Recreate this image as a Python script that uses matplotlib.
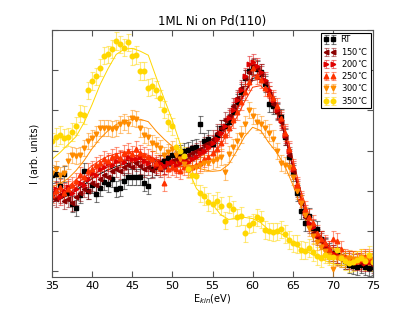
import numpy as np
import matplotlib
matplotlib.use('Agg')
import matplotlib.pyplot as plt

# kinetic energy grid of the measured points and of the fits
energy = np.arange(35.0, 75.5, 0.5)
energy_fit = np.arange(35.0, 76.0, 1.0)

labels = ['RT', '150$^{\\circ}$C', '200$^{\\circ}$C', '250$^{\\circ}$C',
          '300$^{\\circ}$C', '350$^{\\circ}$C']

I_rt = [2.40, 2.42, 2.12, 2.42, 1.95, 1.66, 1.56, 1.90, 2.48, 2.00,
        2.14, 1.92, 2.06, 2.22, 2.17, 2.30, 2.04, 2.07, 2.25, 2.33,
        2.35, 2.35, 2.33, 2.20, 2.12, 2.55, 2.60, 2.70, 2.75, 2.82,
        2.88, 2.90, 2.95, 3.00, 3.02, 3.07, 3.10, 3.65, 3.25, 3.30,
        3.17, 3.40, 3.55, 3.60, 3.70, 3.95, 4.20, 4.45, 4.80, 4.98,
        5.08, 5.03, 4.97, 4.65, 4.15, 4.10, 3.98, 3.83, 3.33, 2.85,
        2.45, 1.95, 1.50, 1.20, 1.36, 1.07, 1.05, 0.80, 0.62, 0.50,
        0.45, 0.40, 0.33, 0.25, 0.15, 0.12, 0.08, 0.13, 0.10, 0.07,
        0.10]
I_150 = [1.85, 1.80, 1.90, 1.75, 1.80, 1.70, 1.85, 1.95, 2.05, 2.00,
         2.20, 2.15, 2.30, 2.40, 2.35, 2.50, 2.55, 2.48, 2.60, 2.65,
         2.58, 2.70, 2.62, 2.55, 2.60, 2.52, 2.60, 2.55, 2.62, 2.70,
         2.75, 2.80, 2.85, 2.80, 2.90, 2.95, 3.00, 3.05, 3.15, 3.20,
         3.30, 3.45, 3.55, 3.75, 3.85, 4.10, 4.30, 4.55, 4.80, 4.95,
         5.10, 5.05, 4.90, 4.70, 4.40, 4.15, 3.95, 3.70, 3.35, 2.90,
         2.50, 2.05, 1.70, 1.35, 1.15, 0.95, 0.85, 0.75, 0.60, 0.45,
         0.40, 0.35, 0.30, 0.25, 0.28, 0.22, 0.25, 0.20, 0.28, 0.22,
         0.15]
I_200 = [1.95, 2.05, 1.85, 2.00, 2.10, 1.95, 2.05, 2.20, 2.15, 2.30,
         2.45, 2.40, 2.55, 2.60, 2.70, 2.65, 2.75, 2.80, 2.72, 2.85,
         2.80, 2.78, 2.85, 2.75, 2.70, 2.78, 2.65, 2.70, 2.62, 2.68,
         2.72, 2.65, 2.70, 2.75, 2.72, 2.80, 2.85, 2.95, 3.00, 3.10,
         3.20, 3.30, 3.45, 3.60, 3.80, 4.00, 4.25, 4.50, 4.85, 5.15,
         5.20, 5.10, 4.95, 4.75, 4.50, 4.25, 4.00, 3.75, 3.40, 3.00,
         2.55, 2.10, 1.75, 1.45, 1.20, 1.10, 0.90, 0.78, 0.65, 0.55,
         0.45, 0.40, 0.35, 0.30, 0.25, 0.30, 0.22, 0.25, 0.20, 0.22,
         0.25]
I_250 = [1.90, 2.00, 2.10, 1.95, 2.05, 2.15, 2.25, 2.40, 2.35, 2.50,
         2.55, 2.65, 2.70, 2.80, 2.75, 2.85, 2.90, 2.82, 2.95, 3.00,
         2.92, 3.05, 2.95, 2.90, 2.85, 2.80, 2.70, 2.60, 2.18, 2.55,
         2.60, 2.55, 2.50, 2.58, 2.55, 2.60, 2.65, 2.70, 2.78, 2.85,
         2.95, 3.05, 3.20, 3.40, 3.55, 3.75, 3.95, 4.20, 4.45, 4.70,
         5.05, 4.85, 4.75, 4.55, 4.40, 4.30, 4.10, 3.80, 3.45, 3.05,
         2.60, 2.15, 1.80, 1.55, 1.35, 1.20, 0.95, 0.80, 0.70, 0.55,
         0.80, 0.75, 0.55, 0.35, 0.30, 0.28, 0.25, 0.30, 0.35, 0.28,
         0.30]
I_300 = [2.45, 2.55, 2.40, 2.45, 2.75, 2.90, 2.87, 2.88, 3.07, 3.23,
         3.32, 3.42, 3.57, 3.57, 3.57, 3.53, 3.57, 3.65, 3.72, 3.65,
         3.80, 3.78, 3.55, 3.38, 3.35, 3.20, 3.15, 3.07, 2.90, 2.97,
         3.05, 2.90, 2.80, 2.67, 2.60, 2.57, 2.58, 2.65, 2.70, 2.70,
         2.73, 2.80, 2.85, 2.47, 2.92, 3.10, 3.25, 3.40, 3.65, 4.00,
         3.85, 3.70, 3.65, 3.55, 3.45, 3.30, 3.00, 2.70, 2.65, 2.60,
         2.35, 1.98, 1.70, 1.40, 1.07, 0.86, 0.72, 0.60, 0.48, 0.40,
         0.05, 0.32, 0.35, 0.30, 0.32, 0.28, 0.30, 0.33, 0.30, 0.35,
         0.30]
I_350 = [3.23, 3.33, 3.38, 3.32, 3.33, 3.47, 3.62, 3.92, 3.88, 4.50,
         4.73, 4.85, 5.07, 5.37, 5.40, 5.53, 5.73, 5.65, 5.57, 5.70,
         5.35, 5.38, 4.98, 4.98, 4.57, 4.60, 4.52, 4.30, 4.02, 3.70,
         3.60, 3.10, 2.98, 2.86, 2.53, 2.40, 2.37, 1.93, 1.86, 1.72,
         1.67, 1.75, 1.61, 1.25, 1.65, 1.53, 1.33, 1.36, 0.93, 1.15,
         1.19, 1.33, 1.28, 1.02, 0.98, 0.96, 0.98, 1.03, 0.92, 0.77,
         0.68, 0.67, 0.52, 0.50, 0.57, 0.47, 0.37, 0.32, 0.40, 0.35,
         0.35, 0.52, 0.32, 0.23, 0.18, 0.22, 0.27, 0.32, 0.23, 0.40,
         0.22]

fit_rt = [1.70, 1.78, 1.88, 2.00, 2.15, 2.30, 2.42, 2.52, 2.60, 2.66,
          2.70, 2.72, 2.72, 2.72, 2.73, 2.76, 2.80, 2.86, 2.95, 3.08,
          3.25, 3.45, 3.72, 4.05, 4.45, 4.80, 4.85, 4.55, 4.05, 3.40,
          2.60, 1.80, 1.20, 0.82, 0.58, 0.42, 0.32, 0.26, 0.22, 0.20,
          0.19]
fit_150 = [1.72, 1.80, 1.92, 2.06, 2.22, 2.38, 2.50, 2.60, 2.68, 2.74,
           2.77, 2.78, 2.77, 2.74, 2.72, 2.72, 2.74, 2.78, 2.86, 2.98,
           3.15, 3.38, 3.68, 4.02, 4.42, 4.75, 4.78, 4.50, 4.02, 3.38,
           2.58, 1.80, 1.22, 0.85, 0.60, 0.44, 0.34, 0.28, 0.24, 0.22,
           0.21]
fit_200 = [1.78, 1.88, 2.00, 2.15, 2.32, 2.48, 2.62, 2.72, 2.80, 2.85,
           2.87, 2.86, 2.82, 2.77, 2.72, 2.70, 2.70, 2.72, 2.80, 2.92,
           3.10, 3.33, 3.63, 4.00, 4.42, 4.85, 4.90, 4.62, 4.12, 3.45,
           2.65, 1.85, 1.26, 0.88, 0.63, 0.46, 0.36, 0.30, 0.26, 0.24,
           0.23]
fit_250 = [1.85, 1.96, 2.10, 2.27, 2.45, 2.62, 2.76, 2.86, 2.92, 2.96,
           2.97, 2.95, 2.88, 2.78, 2.68, 2.62, 2.60, 2.60, 2.64, 2.75,
           2.92, 3.15, 3.45, 3.82, 4.22, 4.58, 4.62, 4.42, 4.10, 3.55,
           2.80, 2.00, 1.40, 1.00, 0.72, 0.54, 0.42, 0.35, 0.30, 0.28,
           0.27]
fit_300 = [2.08, 2.18, 2.30, 2.50, 2.75, 3.05, 3.30, 3.50, 3.65, 3.73,
           3.78, 3.78, 3.72, 3.48, 3.28, 3.10, 2.82, 2.65, 2.57, 2.52,
           2.48, 2.50, 2.65, 2.98, 3.35, 3.58, 3.50, 3.20, 2.95, 2.62,
           2.15, 1.60, 1.08, 0.78, 0.60, 0.45, 0.36, 0.30, 0.26, 0.24,
           0.23]
fit_350 = [2.78, 2.95, 3.15, 3.35, 3.70, 4.15, 4.65, 5.05, 5.40, 5.53,
           5.55, 5.48, 5.38, 4.82, 4.28, 3.75, 3.15, 2.52, 2.05, 1.85,
           1.66, 1.40, 1.28, 1.30, 1.33, 1.30, 1.20, 1.02, 0.96, 0.88,
           0.70, 0.55, 0.45, 0.35, 0.25, 0.17, 0.14, 0.12, 0.12, 0.11,
           0.11]

errors = [0.20, 0.20, 0.20, 0.20, 0.20, 0.22]

series = [I_rt, I_150, I_200, I_250, I_300, I_350]
fits = [fit_rt, fit_150, fit_200, fit_250, fit_300, fit_350]
colors = ['black', '#8b0000', '#e00000', '#ff3300', '#ff8c00', '#ffd700']
markers = ['s', '<', '>', '^', 'v', 'o']

fig = plt.figure(figsize=(4.15, 3.10), dpi=100)
ax = fig.add_axes([0.1253, 0.1075, 0.7735, 0.7945])

for y, yf, err, c, m, lab in zip(series, fits, errors, colors, markers, labels):
    eb = ax.errorbar(energy, y, yerr=err, fmt=m, color=c, mec=c, ms=3.3,
                     ecolor=c, elinewidth=0.8, capsize=1.8, capthick=0.8,
                     label=lab)
    for part in eb[1] + eb[2]:
        part.set_alpha(0.5)
    ax.plot(energy_fit, yf, '-', color=c, lw=0.7)

ax.set_xlim(35, 75)
ax.set_ylim(-0.15, 6.0)
ax.set_xticks(np.arange(35, 76, 5))
ax.set_yticks(np.arange(0, 7, 1))
ax.set_yticklabels([])
ax.tick_params(direction='in', top=True, right=True, length=4,
               color='#555555', labelsize=8, pad=3)
for sp in ax.spines.values():
    sp.set_color('#555555')

ax.set_title('1ML Ni on Pd(110)', fontsize=8.5, pad=4)
ax.set_xlabel('E$_{kin}$(eV)', fontsize=7, labelpad=1)
ax.set_ylabel('I (arb. units)', fontsize=7, labelpad=6)

leg = ax.legend(loc='upper right', numpoints=2, fontsize=6, fancybox=False,
                borderaxespad=0.3, handlelength=1.5, labelspacing=0.15,
                handletextpad=0.6, borderpad=0.3, markerscale=1.0)
leg.get_frame().set_edgecolor('black')
leg.get_frame().set_linewidth(0.8)
leg.get_frame().set_alpha(1.0)

fig.savefig('out.png', dpi=100)
